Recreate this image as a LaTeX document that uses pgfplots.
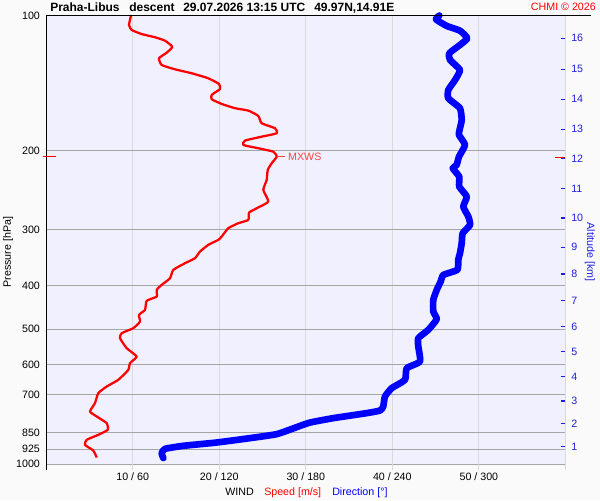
\documentclass[border=0pt]{standalone}
\usepackage{pgfplots}
\pgfplotsset{compat=1.18}
\usepackage{fontspec}
\setmainfont{Liberation Sans}

\definecolor{plotbg}{RGB}{240,240,255}
\definecolor{outerbg}{RGB}{250,250,250}
\definecolor{hgrid}{RGB}{165,165,165}
\definecolor{vgrid}{RGB}{218,218,218}
\definecolor{mxws}{RGB}{245,70,70}
\definecolor{altblue}{RGB}{30,30,230}

% wind speed [m/s] vs pressure [hPa]
\pgfplotstableread{
spd   p
9.80  100.0
9.57  105.0
9.88  107.7
11.04 110.0
12.57 111.8
13.73 113.8
14.57 117.4
13.93 121.0
13.04 124.5
13.35 128.9
14.89 131.8
16.82 134.5
18.73 138.0
19.97 142.1
20.09 145.8
19.13 150.3
19.13 153.7
20.28 157.4
21.82 160.9
23.36 162.9
24.51 167.4
24.90 173.8
26.44 178.3
26.64 183.0
24.90 186.2
22.97 190.0
22.78 194.3
24.51 197.6
26.25 201.1
26.64 206.3
26.06 213.4
25.60 220.9
25.48 232.5
25.09 244.7
25.67 259.8
24.33 268.8
23.44 274.9
23.36 285.4
22.20 290.3
21.04 297.8
20.28 310.9
19.89 316.2
18.73 324.4
17.77 335.8
17.20 347.3
16.04 356.4
14.69 368.8
14.31 384.9
13.35 398.3
12.77 408.6
12.77 422.9
11.61 432.3
11.42 452.8
10.72 464.6
10.84 480.8
10.07 497.3
8.73  510.2
8.53  523.5
9.30  551.1
10.46 575.4
9.68  595.1
9.49  615.9
8.33  648.3
6.99  671.0
6.02  694.1
5.64  730.6
5.06  762.8
5.84  782.6
6.99  809.5
7.11  837.8
6.02  859.6
4.68  881.9
4.48  904.9
5.44  931.6
5.84  965.7
}\speedtable

% wind direction [deg] vs pressure [hPa]
\pgfplotstableread{
dir   p
272.6 100.0
270.3 102.0
277.7 105.5
286.9 108.1
292.0 112.4
286.9 116.3
279.5 121.4
280.0 125.6
286.9 132.2
283.5 139.2
278.8 146.5
278.8 152.9
286.9 160.9
288.1 170.9
286.9 178.3
286.2 184.5
290.4 194.3
286.2 206.3
284.6 215.3
281.9 218.9
286.4 228.6
286.4 240.6
291.6 253.2
289.2 266.6
292.7 280.6
293.9 292.8
288.8 305.6
288.1 321.6
286.9 338.6
285.7 350.4
285.1 368.8
275.4 378.4
273.5 391.6
270.8 408.6
268.4 430.2
268.4 456.8
270.8 474.9
264.9 501.7
258.0 523.5
258.0 546.5
259.2 590.3
250.0 610.6
248.8 648.3
239.6 676.5
234.9 706.3
233.7 743.5
231.5 758.9
222.2 769.1
199.1 789.1
182.9 807.1
173.7 826.4
159.8 856.6
141.3 874.3
118.2 894.2
95.1  909.5
82.4  923.7
80.1  944.2
81.2  968.7
}\dirtable

\begin{document}
\begin{tikzpicture}
\useasboundingbox (-34.65pt,-26.775pt) rectangle (415.35pt,348.225pt);
\fill[outerbg] (-34.65pt,-26.775pt) rectangle (415.35pt,348.225pt);

\begin{axis}[
  scale only axis,
  width=389.4pt, height=336.6pt,
  xmin=0, xmax=60,
  ymin=100, ymax=1000,
  ymode=log, y dir=reverse,
  clip=false,
  axis background/.style={fill=plotbg},
  axis line style={draw=none},
  xtick={10,20,30,40,50},
  xticklabels={10 / 60, 20 / 120, 30 / 180, 40 / 240, 50 / 300},
  ytick={100,200,300,400,500,600,700,850,925,1000},
  yticklabels={100,200,300,400,500,600,700,850,925,1000},
  yminorticks=false,
  xmajorgrids, ymajorgrids,
  x grid style={vgrid, line width=0.75pt},
  y grid style={hgrid, line width=0.75pt},
  xtick pos=bottom, ytick pos=left,
  tick align=outside, major tick length=4.5pt,
  xtick style={draw=vgrid, line width=0.75pt},
  ytick style={draw=none},
  ticklabel style={font=\fontsize{8}{9}\selectfont},
  /pgf/number format/assume math mode=true,
  xticklabel style={inner sep=0pt, yshift=-1.5pt},
  yticklabel style={inner sep=0pt},
]
\addplot[red, line width=1.7pt, line join=round, smooth, tension=0.3] table[x=spd, y=p] {\speedtable};
\draw[mxws, line width=0.75pt] (axis cs:26.64,206.3) -- (axis cs:27.6,206.3)
  node[anchor=west, inner sep=0pt, xshift=2pt, font=\fontsize{8}{9}\selectfont] {MXWS};
\end{axis}

\begin{axis}[
  scale only axis,
  width=389.4pt, height=336.6pt,
  xmin=0, xmax=360,
  ymin=100, ymax=1000,
  ymode=log, y dir=reverse,
  clip=false,
  hide x axis,
  axis y line*=right,
  y axis line style={draw=none},
  ytick={112.4,131.8,153.7,179.2,208.4,243.1,282.5,328.3,376.4,431.7,493.3,560.8,637.5,722.1,811.2,912.8},
  yticklabels={16,15,14,13,12,11,10,9,8,7,6,5,4,3,2,1},
  yminorticks=false,
  tick align=inside, major tick length=3.4pt,
  ytick style={draw=altblue, line width=1pt},
  ticklabel style={font=\fontsize{8}{9}\selectfont},
  /pgf/number format/assume math mode=true,
  yticklabel style={text=altblue, inner sep=0pt, xshift=4.2pt},
]
\addplot[blue, line width=5pt, line join=round, line cap=round, smooth, tension=0.3] table[x=dir, y=p] {\dirtable};
\end{axis}

\begin{scope}[shift={(-34.65pt,348.225pt)}, x=0.75pt, y=-0.75pt]
  % frame lines
  \draw[black, line width=1pt] (46.2,15.5) -- (46.2,470);
  \draw[black, line width=0.8pt] (46.2,15.5) -- (591,15.5);
  \draw[vgrid, line width=0.75pt] (565.4,16) -- (565.4,470);
  % maximum wind marks on the side axes
  \draw[red, line width=0.75pt] (43,157) -- (56,157);
  \draw[red, line width=0.75pt] (555,158) -- (565,158);
  % title
  \begin{scope}[every node/.style={inner sep=0pt, font=\bfseries\fontsize{9}{10}\selectfont}]
    \node[anchor=base west] at (50,12) {Praha-Libus};
    \node[anchor=base west] at (129,12) {descent};
    \node[anchor=base west] at (183,12) {29.07.2026 13:15 UTC};
    \node[anchor=base west] at (314,12) {49.97N,14.91E};
  \end{scope}
  \node[anchor=base east, inner sep=0pt, text=red, font=\fontsize{8}{9}\selectfont] at (596,11) {CHMI © 2026};
  % axis titles
  \node[rotate=90, inner sep=0pt, font=\fontsize{8}{9}\selectfont] at (8,252) {Pressure [hPa]};
  \node[rotate=-90, inner sep=0pt, text=altblue, font=\fontsize{8}{9}\selectfont] at (590,252) {Altitude [km]};
  \begin{scope}[every node/.style={inner sep=0pt, anchor=base west, font=\fontsize{8}{9}\selectfont}]
    \node at (225,495) {WIND};
    \node[text=red] at (264,495) {Speed [m/s]};
    \node[text=blue] at (332,495) {Direction [°]};
  \end{scope}
\end{scope}
\end{tikzpicture}
\end{document}
